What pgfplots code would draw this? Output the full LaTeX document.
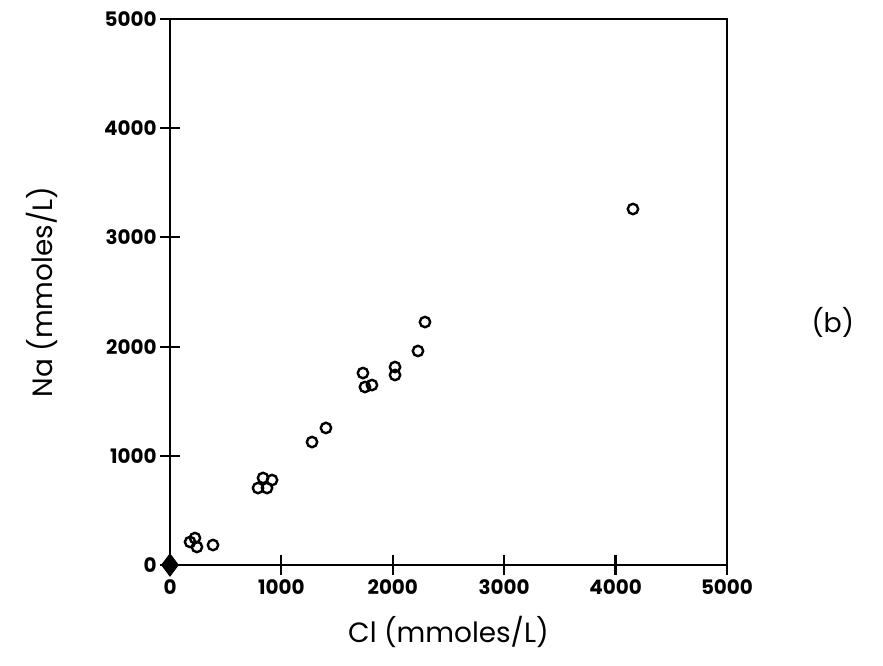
\documentclass[border=0pt]{standalone}
\usepackage{fontspec}
\setmainfont{Poppins}
\usepackage{pgfplots}
\pgfplotsset{compat=1.18}
\pgfplotsset{every axis/.append style={line width=2.2bp}}
\begin{document}
\begin{tikzpicture}
\begin{axis}[
  name=ax,
  scale only axis,
  width=557bp, height=546bp,
  xmin=0, xmax=5000, ymin=0, ymax=5000,
  xtick={0,1000,2000,3000,4000,5000}, ytick={0,1000,2000,3000,4000,5000},
  xtick pos=bottom, ytick pos=left,
  xtick align=center, ytick align=center,
  major tick length=20bp,
  axis line style={line width=2.2bp},
  every tick/.style={line width=2.2bp, black},
  clip=false,
  /pgf/number format/assume math mode=true,
  /pgf/number format/1000 sep={},
  tick label style={font=\bfseries\fontsize{20}{20}\selectfont},
  xticklabel style={yshift=0bp},
  yticklabel style={xshift=1bp},
  every axis x label/.style={at={(rel axis cs:0.5,0)}, yshift=-67bp, anchor=center, font=\fontsize{28}{28}\selectfont},
  every axis y label/.style={at={(rel axis cs:0,0.5)}, xshift=-128bp, rotate=90, anchor=center, font=\fontsize{28}{28}\selectfont},
  xlabel={Cl (mmoles/L)},
  ylabel={Na (mmoles/L)},
]
\addplot[only marks, mark=o, mark size=5.2bp, black, mark options={line width=2.4bp}] coordinates {
(224,247) (180,211) (242,165) (386,183)
(835,797) (916,778) (790,705) (871,705)
(1275,1126) (1400,1255)
(2289,2225) (2226,1960) (2020,1813) (2020,1740)
(1732,1758) (1750,1630) (1813,1648)
(4156,3260)
};
\addplot[only marks, mark=diamond*, mark size=11bp, black, mark options={line width=1bp}] coordinates {(0,0)};
\node[font=\fontsize{27}{27}\selectfont] at (rel axis cs:1.19,0.445) {(b)};
\end{axis}
\pgfresetboundingbox
\path[use as bounding box] ([xshift=-170bp,yshift=-101bp]ax.south west) rectangle ([xshift=713bp,yshift=565bp]ax.south west);
\end{tikzpicture}
\end{document}
